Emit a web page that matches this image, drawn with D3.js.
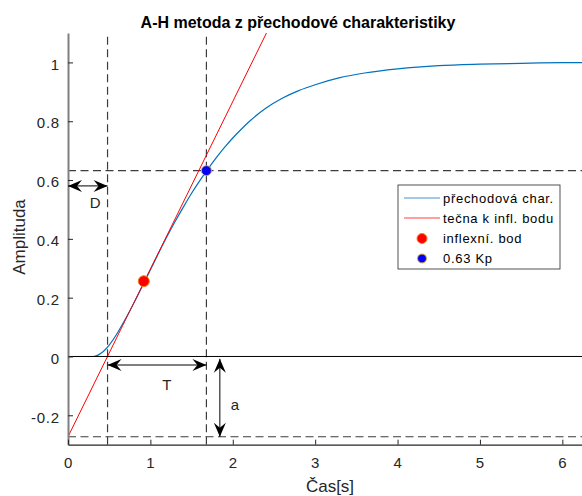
<!DOCTYPE html>
<html>
<head>
<meta charset="utf-8">
<script src="https://cdn.jsdelivr.net/npm/d3@7"></script>
<style>
  body { margin: 0; background: #fff; }
  text { font-family: "Liberation Sans", Arial, sans-serif; fill: #262626; }
</style>
</head>
<body>
<div id="chart-area"></div>
<script>
// step response
const time = [0, 0.3, 0.35, 0.4, 0.45, 0.5, 0.6, 0.7, 0.8, 0.9, 1.0, 1.1, 1.2, 1.3, 1.4, 1.5, 1.6, 1.7,
  1.8, 1.9, 2.0, 2.1, 2.2, 2.4, 2.6, 2.8, 3.0, 3.3, 3.6, 4.0, 4.5, 5.0, 5.5, 6.0, 6.4]
const amplitude = [0, 0, 0.003, 0.011, 0.023, 0.039, 0.080, 0.129, 0.182, 0.238, 0.295, 0.352, 0.407, 0.459,
  0.508, 0.555, 0.598, 0.638, 0.676, 0.711, 0.743, 0.772, 0.799, 0.844, 0.878, 0.904, 0.924, 0.948, 0.964,
  0.978, 0.989, 0.994, 0.997, 0.999, 0.999]

// tangent at the inflection point
const tangentTime = [0, 2.6]
const tangentAmp = [-0.273, 1.209]

// marked points
const inflexPoint = [0.92, 0.256]
const kpPoint = [1.68, 0.632]

// A-H parameters
const dTime = 0.48
const tTime = 1.68
const aLevel = -0.273
const kpLevel = 0.632

const xTicks = [0, 1, 2, 3, 4, 5, 6]
const yTicks = [-0.2, 0, 0.2, 0.4, 0.6, 0.8, 1]
const legendLabels = ["přechodová char.", "tečna k infl. bodu", "inflexní. bod", "0.63 Kp"]

const MARGIN = { LEFT: 68, TOP: 33 }
const WIDTH = 524
const HEIGHT = 411.7

const svg = d3.select("#chart-area").append("svg")
  .attr("width", 582)
  .attr("height", 496)

const g = svg.append("g")
  .attr("transform", `translate(${MARGIN.LEFT}, ${MARGIN.TOP})`)

const x = d3.scaleLinear().domain([0, 6.36]).range([0, WIDTH])
const y = d3.scaleLinear().domain([-0.3, 1.1]).range([HEIGHT, 0])

svg.append("defs").append("clipPath").attr("id", "clip")
  .append("rect").attr("width", WIDTH).attr("height", HEIGHT)

const plot = g.append("g").attr("clip-path", "url(#clip)")

// dashed guide lines
const dash = "8,4.5"
const guides = [
  { x1: dTime, x2: dTime, y1: -0.3, y2: 1.1 },
  { x1: tTime, x2: tTime, y1: -0.3, y2: 1.1 },
  { x1: 0, x2: 6.36, y1: kpLevel, y2: kpLevel },
  { x1: 0, x2: 6.36, y1: aLevel, y2: aLevel }
]
plot.selectAll(".guide").data(guides).enter().append("line")
  .attr("class", "guide")
  .attr("x1", d => x(d.x1)).attr("x2", d => x(d.x2))
  .attr("y1", d => y(d.y1)).attr("y2", d => y(d.y2))
  .attr("stroke", "#3c3c3c")
  .attr("stroke-width", 1.2)
  .attr("stroke-dasharray", dash)

// step response
const line = d3.line()
  .x(d => x(d[0]))
  .y(d => y(d[1]))
  .curve(d3.curveMonotoneX)

plot.append("path")
  .attr("fill", "none")
  .attr("stroke", "#0072BD")
  .attr("stroke-width", 1.2)
  .attr("d", line(d3.zip(time, amplitude)))

// tangent
plot.append("path")
  .attr("fill", "none")
  .attr("stroke", "#ff0000")
  .attr("stroke-width", 1)
  .attr("d", d3.line().x(d => x(d[0])).y(d => y(d[1]))(d3.zip(tangentTime, tangentAmp)))

// zero line
plot.append("line")
  .attr("x1", x(0)).attr("x2", x(6.36))
  .attr("y1", y(0)).attr("y2", y(0))
  .attr("stroke", "#000").attr("stroke-width", 1)

// axes
const yAxis = g.append("g")
  .call(d3.axisLeft(y).tickValues(yTicks).tickSize(-5).tickSizeOuter(0).tickPadding(8)
    .tickFormat(d => String(d)))
yAxis.select(".domain").attr("stroke", "#808080").attr("stroke-width", 2)

const xAxis = g.append("g")
  .attr("transform", `translate(0, ${HEIGHT})`)
  .call(d3.axisBottom(x).tickValues(xTicks).tickSize(-5).tickSizeOuter(0).tickPadding(13)
    .tickFormat(d => String(d)))
xAxis.select(".domain").attr("stroke", "#262626").attr("stroke-width", 1.2)

g.selectAll(".tick line").attr("stroke", "#262626")
g.selectAll(".tick text")
  .attr("font-family", "Liberation Sans, Arial, sans-serif")
  .attr("font-size", 15)
  .attr("fill", "#262626")
  .style("letter-spacing", "0.8px")
yAxis.selectAll(".tick text").attr("dy", "0.45em")

// markers
plot.append("circle")
  .attr("cx", x(inflexPoint[0])).attr("cy", y(inflexPoint[1])).attr("r", 5.5)
  .attr("fill", "#ff0000").attr("stroke", "#f08020").attr("stroke-width", 1)
plot.append("circle")
  .attr("cx", x(kpPoint[0])).attr("cy", y(kpPoint[1])).attr("r", 5)
  .attr("fill", "#0000ff").attr("stroke", "#EDB120").attr("stroke-width", 1)

// double arrows
function arrowHead(px, py, angle) {
  const L = 14, W = 6, N = 9
  const pts = [[0, 0], [-L, -W], [-N, 0], [-L, W]]
  const c = Math.cos(angle), s = Math.sin(angle)
  return "M" + pts.map(p => [px + p[0] * c - p[1] * s, py + p[0] * s + p[1] * c].join(",")).join("L") + "Z"
}
function doubleArrow(t1, a1, t2, a2) {
  const x1 = x(t1), y1 = y(a1), x2 = x(t2), y2 = y(a2)
  const ang = Math.atan2(y2 - y1, x2 - x1)
  g.append("line").attr("x1", x1).attr("y1", y1).attr("x2", x2).attr("y2", y2)
    .attr("stroke", "#000").attr("stroke-width", 1)
  g.append("path").attr("d", arrowHead(x2, y2, ang)).attr("fill", "#000")
  g.append("path").attr("d", arrowHead(x1, y1, ang + Math.PI)).attr("fill", "#000")
}
doubleArrow(0, 0.58, dTime, 0.58)
doubleArrow(dTime, -0.029, tTime, -0.029)
doubleArrow(1.843, -0.008, 1.843, aLevel)

const labels = [
  { text: "D", t: 0.33, v: 0.505 },
  { text: "T", t: 1.2, v: -0.114 },
  { text: "a", t: 2.025, v: -0.182 }
]
g.selectAll(".lbl").data(labels).enter().append("text")
  .attr("class", "lbl")
  .attr("x", d => x(d.t)).attr("y", d => y(d.v))
  .attr("text-anchor", "middle")
  .attr("font-size", 15)
  .text(d => d.text)

// title and axis labels
svg.append("text")
  .attr("x", 298).attr("y", 28)
  .attr("text-anchor", "middle")
  .attr("font-size", 16).attr("font-weight", "bold")
  .style("fill", "#000")
  .text("A-H metoda z přechodové charakteristiky")

svg.append("text")
  .attr("transform", "translate(25, 237) rotate(-90)")
  .attr("text-anchor", "middle")
  .attr("font-size", 17)
  .text("Amplituda")

svg.append("text")
  .attr("x", 330).attr("y", 492)
  .attr("text-anchor", "middle")
  .attr("font-size", 17)
  .text("Čas[s]")

// legend
const legend = svg.append("g").attr("transform", "translate(398, 185)")
legend.append("rect")
  .attr("width", 162).attr("height", 84)
  .attr("fill", "#fff").attr("stroke", "#262626").attr("stroke-width", 0.8)
const rowY = [13, 33, 53.5, 73.5]
const legendColors = ["#0072BD", "#ff0000"]
legend.selectAll(".lline").data(legendColors).enter().append("line")
  .attr("x1", 6).attr("x2", 42)
  .attr("y1", (d, i) => rowY[i]).attr("y2", (d, i) => rowY[i])
  .attr("stroke", d => d).attr("stroke-width", 1.2).attr("opacity", 0.75)
legend.append("circle").attr("cx", 24).attr("cy", rowY[2]).attr("r", 5)
  .attr("fill", "#ff0000").attr("stroke", "#f08020")
legend.append("circle").attr("cx", 24).attr("cy", rowY[3]).attr("r", 4.5)
  .attr("fill", "#0000ff").attr("stroke", "#EDB120")
legend.selectAll(".ltext").data(legendLabels).enter().append("text")
  .attr("x", 45)
  .attr("y", (d, i) => rowY[i] + 4.7)
  .attr("font-size", 13)
  .style("letter-spacing", "0.7px")
  .style("fill", "#000")
  .text(d => d)
</script>
</body>
</html>
